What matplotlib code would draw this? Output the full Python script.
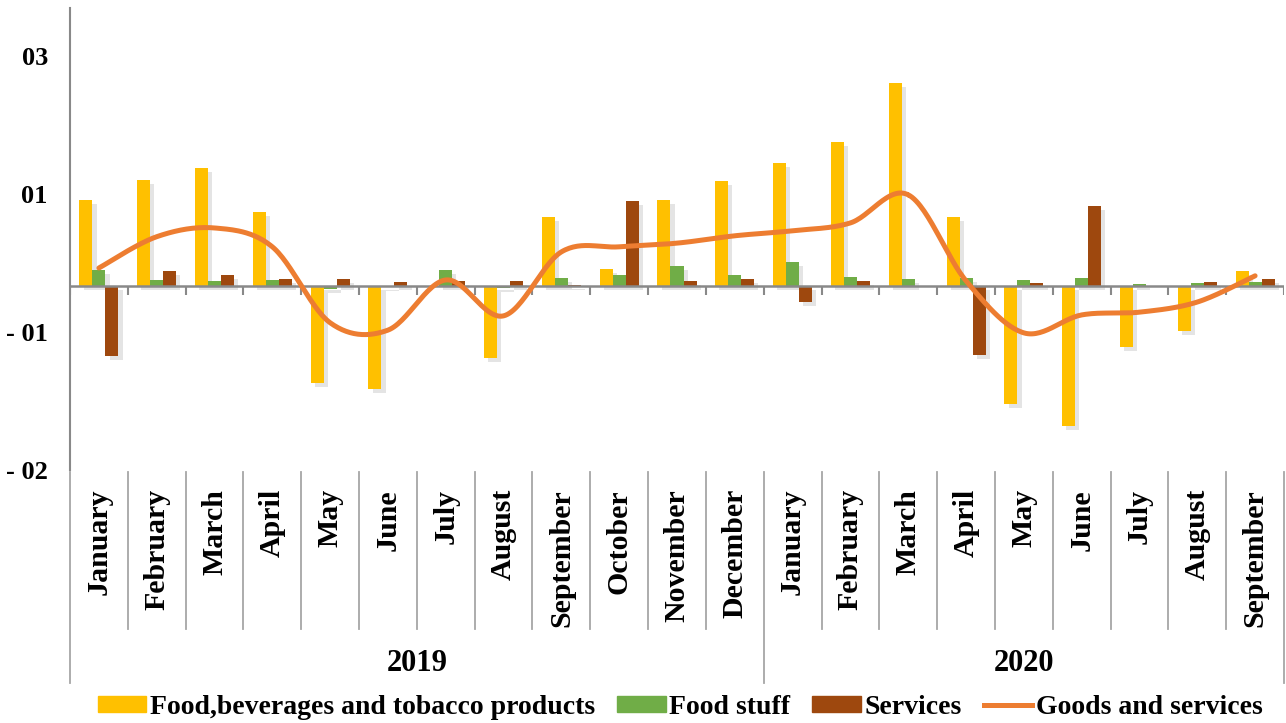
import numpy as np
import matplotlib.pyplot as plt
import matplotlib.patheffects as pe
from matplotlib.lines import Line2D
from matplotlib.patches import Patch

months = ['January', 'February', 'March', 'April', 'May', 'June', 'July', 'August',
          'September', 'October', 'November', 'December',
          'January', 'February', 'March', 'April', 'May', 'June', 'July', 'August',
          'September']
years = ['2019', '2020']
year_sizes = [12, 9]

food_bev = [1.87, 2.30, 2.57, 1.61, -2.11, -2.24, 0.0, -1.57, 1.50, 0.37, 1.87, 2.28,
            2.67, 3.13, 4.41, 1.50, -2.57, -3.04, -1.33, -0.98, 0.33]
food_stuff = [0.35, 0.13, 0.11, 0.13, -0.07, -0.02, 0.35, -0.04, 0.17, 0.24, 0.43, 0.24,
              0.52, 0.20, 0.15, 0.17, 0.13, 0.17, 0.04, 0.07, 0.09]
services = [-1.52, 0.33, 0.24, 0.15, 0.15, 0.09, 0.11, 0.11, 0.02, 1.85, 0.11, 0.15,
            -0.35, 0.11, 0.0, -1.50, 0.07, 1.74, 0.0, 0.09, 0.15]
goods_services = [0.39, 1.07, 1.26, 0.85, -0.80, -0.96, 0.13, -0.65, 0.74, 0.85, 0.93, 1.09,
                  1.20, 1.37, 1.98, 0.11, -1.02, -0.63, -0.57, -0.35, 0.22]

ytick_pos = [5, 2, -1, -4]
ytick_labels = ['03', '01', '- 01', '- 02']


def smooth(x, y, n=30):
    # catmull-rom curve through the points, like excel's smoothed line
    x = np.asarray(x, float)
    y = np.asarray(y, float)
    px = np.concatenate([[x[0]], x, [x[-1]]])
    py = np.concatenate([[y[0]], y, [y[-1]]])
    t = np.linspace(0, 1, n)
    xs, ys = [], []
    for i in range(1, len(px) - 2):
        for p, out in ((px, xs), (py, ys)):
            p0, p1, p2, p3 = p[i - 1], p[i], p[i + 1], p[i + 2]
            out.append(0.5 * (2 * p1 + (-p0 + p2) * t
                              + (2 * p0 - 5 * p1 + 4 * p2 - p3) * t ** 2
                              + (-p0 + 3 * p1 - 3 * p2 + p3) * t ** 3))
    return np.concatenate(xs), np.concatenate(ys)


plt.rcParams['font.family'] = ['Liberation Serif', 'DejaVu Serif']
plt.rcParams['font.weight'] = 'bold'

yellow = '#FFC000'
green = '#70AD47'
brown = '#9E480E'
orange = '#ED7D31'
gray = '#898989'
sep_gray = '#a6a6a6'

fig = plt.figure(figsize=(12.86, 7.23), dpi=100)
ax = fig.add_axes([70 / 1286, 1 - 470 / 723, 1214 / 1286, 462 / 723])

x = np.arange(len(months))
w = 0.225
shadow = [pe.withSimplePatchShadow(offset=(3, -3), shadow_rgbFace='#888888', alpha=0.22)]
ax.bar(x - w, food_bev, w, color=yellow, path_effects=shadow, zorder=3)
ax.bar(x, food_stuff, w, color=green, path_effects=shadow, zorder=3)
ax.bar(x + w, services, w, color=brown, path_effects=shadow, zorder=3)

sx, sy = smooth(x, goods_services)
ax.plot(sx, sy, color=orange, lw=3.6, solid_capstyle='round', zorder=5)

ax.set_xlim(-0.5, len(months) - 0.5)
ax.set_ylim(-4, 6.04)

ax.axhline(0, color=gray, lw=1.8, zorder=4)
bounds = np.arange(len(months) + 1) - 0.5
ax.vlines(bounds, -0.2, 0, color=gray, lw=1.5, zorder=4)

for s in ['top', 'right', 'bottom']:
    ax.spines[s].set_visible(False)
ax.spines['left'].set_color(gray)
ax.spines['left'].set_linewidth(1.5)

ax.set_xticks([])
ax.set_yticks(ytick_pos)
ax.set_yticklabels(ytick_labels, fontsize=19, fontweight='bold')
ax.tick_params(axis='y', length=0, pad=16)

# multi-level category axis under the plot
tr = ax.get_xaxis_transform()
year_edges = np.cumsum([0] + year_sizes) - 0.5
for b in bounds:
    if b in year_edges:
        ax.plot([b, b], [-0.004, -0.461], transform=tr, color=sep_gray, lw=1.3, clip_on=False)
    else:
        ax.plot([b, b], [-0.004, -0.344], transform=tr, color=sep_gray, lw=1.3, clip_on=False)

for i, m in enumerate(months):
    ax.text(i, -0.041, m, transform=tr, rotation=90, ha='center', va='top',
            fontsize=21.5, fontweight='bold')

for k, yr in enumerate(years):
    xc = (year_edges[k] + year_edges[k + 1]) / 2
    ax.text(xc, -0.418, yr, transform=tr, ha='center', va='center',
            fontsize=22, fontweight='bold')

handles = [Patch(color=yellow), Patch(color=green), Patch(color=brown),
           Line2D([], [], color=orange, lw=3.6)]
labels = ['Food,beverages and tobacco products', 'Food stuff', 'Services', 'Goods and services']
fig.legend(handles, labels, loc='center', bbox_to_anchor=(680 / 1286, 1 - 707 / 723),
           ncol=4, frameon=False, handlelength=1.75, handleheight=0.5,
           handletextpad=0.12, columnspacing=0.8, borderpad=0,
           prop={'weight': 'bold', 'size': 20})

fig.savefig('out.png', dpi=100)
